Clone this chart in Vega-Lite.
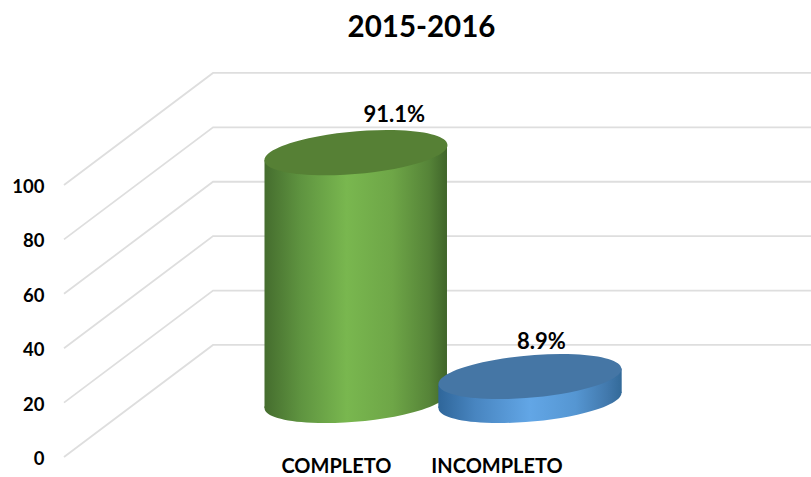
{"$schema":"https://vega.github.io/schema/vega-lite/v6.json","width":747,"height":408,"autosize":{"type":"none"},"padding":{"left":64,"top":49,"right":0,"bottom":20},"background":"white","config":{"view":{"stroke":null},"font":"Lato"},"title":{"text":"2015-2016","font":"Lato","fontSize":29.5,"fontWeight":"bold","color":"#000000","anchor":"middle","dx":-16,"offset":6},
"datasets":{"grid":[
{"tick":0,"x":0,"y":0},{"tick":0,"x":19.95,"y":41.2},{"tick":0,"x":100,"y":41.2},
{"tick":20,"x":0,"y":20},{"tick":20,"x":19.95,"y":61.2},{"tick":20,"x":100,"y":61.2},
{"tick":40,"x":0,"y":40},{"tick":40,"x":19.95,"y":81.2},{"tick":40,"x":100,"y":81.2},
{"tick":60,"x":0,"y":60},{"tick":60,"x":19.95,"y":101.2},{"tick":60,"x":100,"y":101.2},
{"tick":80,"x":0,"y":80},{"tick":80,"x":19.95,"y":121.2},{"tick":80,"x":100,"y":121.2},
{"tick":100,"x":0,"y":100},{"tick":100,"x":19.95,"y":141.2},{"tick":100,"x":100,"y":141.2}],
"greenBody":[{"x":26.84,"top":109.2,"bottom":18.0},{"x":51.27,"top":114.7,"bottom":23.5}],
"blueBody":[{"x":50.11,"top":26.7,"bottom":18.0},{"x":74.66,"top":32.5,"bottom":23.5}],
"green":[{"category":"COMPLETO","value":91.1,"x":39.09,"base":20.8,"top":111.9}],
"blue":[{"category":"INCOMPLETO","value":8.9,"x":62.38,"base":20.8,"top":29.6}]},
"layer":[
{"data":{"name":"grid"},"mark":{"type":"line","stroke":"#dedede","strokeWidth":1.8,"interpolate":"linear"},"encoding":{"detail":{"field":"tick"},"order":{"field":"x"},
"x":{"field":"x","type":"quantitative","scale":{"domain":[0,100],"nice":false,"zero":false},"axis":{"title":null,"grid":false,"domain":false,"ticks":false,"values":[36.4,57.9],"labelExpr":"datum.value<50?'COMPLETO':'INCOMPLETO'","labelFont":"Lato","labelFontWeight":"bold","labelFontSize":20,"labelColor":"#000000","labelPadding":-1,"labelOverlap":false,"labelFlush":false,"labelBaseline":"top"}},
"y":{"field":"y","type":"quantitative","scale":{"domain":[0,150],"nice":false,"zero":false},"axis":{"title":null,"grid":false,"domain":false,"ticks":false,"values":[0,20,40,60,80,100],"labelFont":"Lato","labelFontWeight":"bold","labelFontSize":18.5,"labelColor":"#000000","labelPadding":20,"labelOffset":1.5}}}},
{"data":{"name":"greenBody"},"mark":{"type":"area","interpolate":"linear","fill":{"gradient":"linear","x1":0,"x2":1,"y1":0,"y2":0,"stops":[{"offset":0,"color":"#456d2e"},{"offset":0.2,"color":"#5f9440"},{"offset":0.45,"color":"#79b74f"},{"offset":0.7,"color":"#6ea647"},{"offset":0.9,"color":"#568438"},{"offset":1,"color":"#40652a"}]}},"encoding":{"x":{"field":"x","type":"quantitative"},"y":{"field":"top","type":"quantitative"},"y2":{"field":"bottom"}}},
{"data":{"name":"green"},"mark":{"type":"point","shape":"M-91.45,8A91.8,21.1,-5,1,1,91.45,-8A91.8,21.1,-5,1,1,-91.45,8Z","size":4,"filled":true,"opacity":1,"strokeWidth":0,"fill":{"gradient":"linear","x1":0,"x2":1,"y1":0,"y2":0,"stops":[{"offset":0,"color":"#456d2e"},{"offset":0.2,"color":"#5f9440"},{"offset":0.45,"color":"#79b74f"},{"offset":0.7,"color":"#6ea647"},{"offset":0.9,"color":"#568438"},{"offset":1,"color":"#40652a"}]}},"encoding":{"x":{"field":"x","type":"quantitative"},"y":{"field":"base","type":"quantitative"}}},
{"data":{"name":"green"},"mark":{"type":"point","shape":"M-91.45,8A91.8,21.1,-5,1,1,91.45,-8A91.8,21.1,-5,1,1,-91.45,8Z","size":4,"filled":true,"opacity":1,"strokeWidth":0,"fill":"#568035"},"encoding":{"x":{"field":"x","type":"quantitative"},"y":{"field":"top","type":"quantitative"}}},
{"data":{"name":"blueBody"},"mark":{"type":"area","interpolate":"linear","fill":{"gradient":"linear","x1":0,"x2":1,"y1":0,"y2":0,"stops":[{"offset":0,"color":"#2f669a"},{"offset":0.2,"color":"#4885c0"},{"offset":0.5,"color":"#62a6e6"},{"offset":0.75,"color":"#5596d2"},{"offset":0.92,"color":"#4279ad"},{"offset":1,"color":"#336a99"}]}},"encoding":{"x":{"field":"x","type":"quantitative"},"y":{"field":"top","type":"quantitative"},"y2":{"field":"bottom"}}},
{"data":{"name":"blue"},"mark":{"type":"point","shape":"M-91.45,8A91.8,21.1,-5,1,1,91.45,-8A91.8,21.1,-5,1,1,-91.45,8Z","size":4,"filled":true,"opacity":1,"strokeWidth":0,"fill":{"gradient":"linear","x1":0,"x2":1,"y1":0,"y2":0,"stops":[{"offset":0,"color":"#2f669a"},{"offset":0.2,"color":"#4885c0"},{"offset":0.5,"color":"#62a6e6"},{"offset":0.75,"color":"#5596d2"},{"offset":0.92,"color":"#4279ad"},{"offset":1,"color":"#336a99"}]}},"encoding":{"x":{"field":"x","type":"quantitative"},"y":{"field":"base","type":"quantitative"}}},
{"data":{"name":"blue"},"mark":{"type":"point","shape":"M-91.45,8A91.8,21.1,-5,1,1,91.45,-8A91.8,21.1,-5,1,1,-91.45,8Z","size":4,"filled":true,"opacity":1,"strokeWidth":0,"fill":"#4576a5"},"encoding":{"x":{"field":"x","type":"quantitative"},"y":{"field":"top","type":"quantitative"}}},
{"data":{"values":[{"label":"91.1%","labelX":44.2,"labelY":125.6},{"label":"8.9%","labelX":63.9,"labelY":42.3}]},"mark":{"type":"text","font":"Lato","fontWeight":"bold","fontSize":22,"color":"#000000","align":"center","baseline":"middle"},"encoding":{"x":{"field":"labelX","type":"quantitative"},"y":{"field":"labelY","type":"quantitative"},"text":{"field":"label"}}}
]}
